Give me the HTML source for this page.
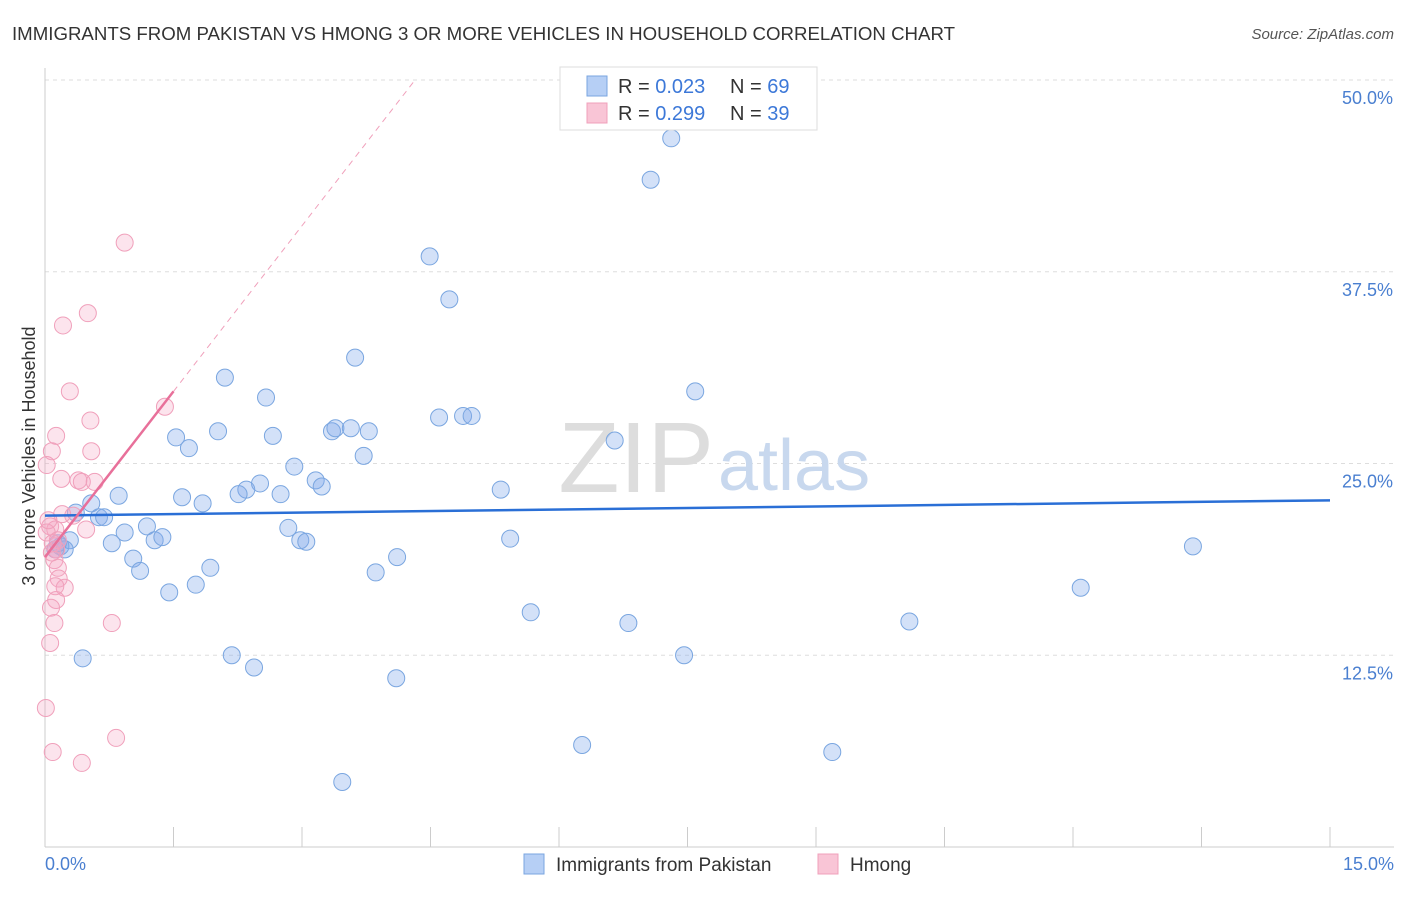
<!DOCTYPE html>
<html><head><meta charset="utf-8">
<style>
body{margin:0;background:#fff;font-family:"Liberation Sans",sans-serif;}
svg text{font-family:"Liberation Sans",sans-serif;}
</style></head>
<body>
<svg id="chart" width="1406" height="892" viewBox="0 0 1406 892" xmlns="http://www.w3.org/2000/svg">
<text x="12" y="40" font-size="18" fill="#333" textLength="943" lengthAdjust="spacingAndGlyphs">IMMIGRANTS FROM PAKISTAN VS HMONG 3 OR MORE VEHICLES IN HOUSEHOLD CORRELATION CHART</text>
<text x="1394" y="39" font-size="15" fill="#555" font-style="italic" text-anchor="end">Source: ZipAtlas.com</text>
<g id="grid"></g>
<text x="714" y="492" font-size="100" fill="#ddd" font-family="Liberation Serif" text-anchor="end">ZIP</text>
<text x="718" y="490" font-size="72" fill="#c8d8ee" text-anchor="start">atlas</text>
<g id="axes"></g>
<g id="marks"></g>
<text x="35" y="456" font-size="18" fill="#333" text-anchor="middle" transform="rotate(-90 35 456)">3 or more Vehicles in Household</text>
<text x="45" y="870" font-size="18" fill="#4a7fd0">0.0%</text>
<text x="1394" y="870" font-size="18" fill="#4a7fd0" text-anchor="end">15.0%</text>
<g>
<rect x="560" y="67" width="257" height="63" fill="#fff" stroke="#ddd"/>
<rect x="587" y="76" width="20" height="20" fill="#b6cff5" stroke="#7aa6e0"/>
<rect x="587" y="103" width="20" height="20" fill="#f9c5d6" stroke="#f0a0bb"/>
<text x="618" y="93" font-size="20" fill="#333">R = <tspan fill="#3c78d8">0.023</tspan></text>
<text x="730" y="93" font-size="20" fill="#333">N = <tspan fill="#3c78d8">69</tspan></text>
<text x="618" y="120" font-size="20" fill="#333">R = <tspan fill="#3c78d8">0.299</tspan></text>
<text x="730" y="120" font-size="20" fill="#333">N = <tspan fill="#3c78d8">39</tspan></text>
</g>
<g>
<rect x="524" y="854" width="20" height="20" fill="#b6cff5" stroke="#7aa6e0"/>
<text x="556" y="871" font-size="19" fill="#333">Immigrants from Pakistan</text>
<rect x="818" y="854" width="20" height="20" fill="#f9c5d6" stroke="#f0a0bb"/>
<text x="850" y="871" font-size="19" fill="#333">Hmong</text>
</g>
</svg>
<script>
const yTicks=[12.5,25,37.5,50];
const yTickLabels=["12.5%","25.0%","37.5%","50.0%"];
const xTicks=[0,1.5,3,4.5,6,7.5,9,10.5,12,13.5,15];
const pakX=[7.31,7.07,4.49,4.72,3.62,2.10,2.58,7.59,4.60,4.88,4.98,6.65,3.35,3.39,3.57,3.78,2.02,1.53,1.68,2.66,3.72,2.91,3.16,3.23,2.51,2.35,2.26,2.75,1.60,1.84,0.86,0.54,5.32,0.36,0.63,0.69,1.19,0.93,2.84,2.98,3.05,5.43,1.28,1.37,0.78,0.29,0.18,0.23,0.12,0.15,1.03,1.11,1.93,1.76,1.45,4.11,3.86,13.40,12.09,5.67,6.81,10.09,7.46,0.44,2.18,2.44,4.10,6.27,9.19,3.47];
const pakY=[46.2,43.5,38.5,35.7,31.9,30.6,29.3,29.7,28.0,28.1,28.1,26.5,27.1,27.3,27.3,27.1,27.1,26.7,26.0,26.8,25.5,24.8,23.9,23.5,23.7,23.3,23.0,23.0,22.8,22.4,22.9,22.4,23.3,21.8,21.5,21.5,20.9,20.5,20.8,20.0,19.9,20.1,20.0,20.2,19.8,20.0,19.6,19.4,19.4,19.8,18.8,18.0,18.2,17.1,16.6,18.9,17.9,19.6,16.9,15.3,14.6,14.7,12.5,12.3,12.5,11.7,11.0,6.65,6.19,4.24];
const hmX=[0.93,0.50,0.21,0.29,0.53,1.40,0.13,0.54,0.08,0.02,0.19,0.39,0.43,0.58,0.20,0.33,0.48,0.06,0.12,0.02,0.15,0.09,0.13,0.11,0.15,0.16,0.23,0.13,0.07,0.11,0.78,0.06,0.01,0.83,0.09,0.43,0.04,0.08,0.12];
const hmY=[39.4,34.8,34.0,29.7,27.8,28.7,26.8,25.8,25.8,24.9,24.0,23.9,23.8,23.8,21.7,21.6,20.7,20.9,20.7,20.5,20.0,19.8,19.4,18.7,18.2,17.5,16.9,16.1,15.6,14.6,14.6,13.3,9.06,7.11,6.19,5.48,21.3,19.2,17.0];
const pakTrend=[21.6,22.6];
const hmTrend=[18.9,29.7];
const hmTrendX=[0,1.5];

const X0=45,X1=1330,Y0=847,Y50=80;
const sx=v=>X0+(X1-X0)*v/15;
const sy=v=>Y0-(Y0-Y50)*v/50;
const NS="http://www.w3.org/2000/svg";
function mk(tag,attrs,parent){const e=document.createElementNS(NS,tag);for(const k in attrs)e.setAttribute(k,attrs[k]);parent.appendChild(e);return e;}
const grid=document.getElementById('grid'),axes=document.getElementById('axes'),marks=document.getElementById('marks');
yTicks.forEach((t,i)=>{
  const l=mk('line',{x1:X0,x2:1394,y1:sy(t),y2:sy(t),stroke:'#ddd','stroke-dasharray':'4,4'},grid);
  
  
  const tx=mk('text',{x:1393,y:sy(t)+24,'font-size':18,fill:'#4a7fd0','text-anchor':'end'},axes);
  tx.textContent=yTickLabels[i];
  
  
});
const ya=mk('line',{x1:X0,x2:X0,y1:68,y2:Y0,stroke:'#ccc'},axes);


const xa=mk('line',{x1:X0,x2:1394,y1:Y0,y2:Y0,stroke:'#ccc'},axes);


xTicks.forEach(t=>{
  const l=mk('line',{x1:sx(t),x2:sx(t),y1:Y0-20,y2:Y0,stroke:'#ccc'},axes);
  
  
});
pakX.forEach((v,i)=>{
  const c=mk('circle',{cx:sx(v),cy:sy(pakY[i]),r:8.5,fill:'rgba(130,170,235,0.35)',stroke:'#7aa6e0','stroke-width':1},marks);
  
  
});
hmX.forEach((v,i)=>{
  const c=mk('circle',{cx:sx(v),cy:sy(hmY[i]),r:8.5,fill:'rgba(245,165,195,0.3)',stroke:'#f0a0bb','stroke-width':1},marks);
  
  
});
const pl=mk('line',{x1:sx(0),y1:sy(pakTrend[0]),x2:sx(15),y2:sy(pakTrend[1]),stroke:'#2a6fd6','stroke-width':2.5},marks);


const slope=(hmTrend[1]-hmTrend[0])/(hmTrendX[1]-hmTrendX[0]);
const xEnd=(50-hmTrend[0])/slope;
const hd=mk('line',{x1:sx(hmTrendX[1]),y1:sy(hmTrend[1]),x2:sx(xEnd),y2:sy(50),stroke:'#f0a0bb','stroke-width':1,'stroke-dasharray':'6,5'},marks);


const hl=mk('line',{x1:sx(hmTrendX[0]),y1:sy(hmTrend[0]),x2:sx(hmTrendX[1]),y2:sy(hmTrend[1]),stroke:'#e8709a','stroke-width':2.5},marks);


</script>
</body></html>
